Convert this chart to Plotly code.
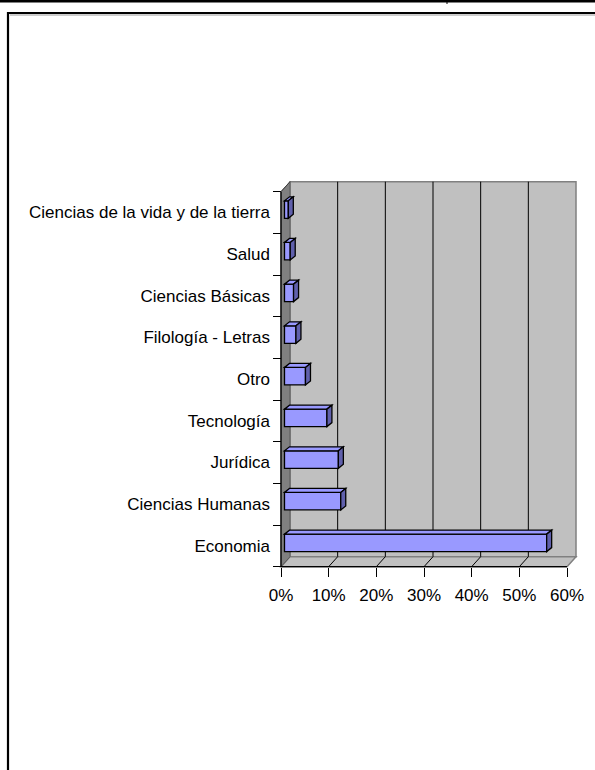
import plotly.graph_objects as go

# ---- data (bottom to top) ----
categories = ["Economia", "Ciencias Humanas", "Jurídica", "Tecnología", "Otro",
              "Filología - Letras", "Ciencias Básicas", "Salud",
              "Ciencias de la vida y de la tierra"]
values = [55.0, 11.8, 11.3, 8.9, 4.4, 2.4, 1.9, 1.2, 0.8]
x_ticks = [0, 10, 20, 30, 40, 50, 60]
x_tick_labels = ["0%", "10%", "20%", "30%", "40%", "50%", "60%"]

W, H = 595, 770
X_MAX = 60
# pixel geometry of the front frame
PX0, PX1 = 281.0, 567.0          # x of 0% and 60%
PY_BOT, PY_TOP = 566.7, 191.7    # y of bottom / top of category band
PX_PCT = (PX1 - PX0) / X_MAX
PX_CAT = (PY_BOT - PY_TOP) / len(categories)

# plot-area (slightly larger than the frame so shapes are not clipped)
DOM_L, DOM_R, DOM_B, DOM_T = 276.0, 586.0, 572.0, 175.0
x_range = [(DOM_L - PX0) / PX_PCT, (DOM_R - PX0) / PX_PCT]
y_lo = -0.5 - (DOM_B - PY_BOT) / PX_CAT
y_hi = -0.5 + (PY_BOT - DOM_T) / PX_CAT

# 3D depth
DX = 9.0 / PX_PCT
DY = 10.0 / PX_CAT
BAR_X0 = 3.5 / PX_PCT
BAR_SHIFT = 3.0 / PX_CAT
BAR_W = 0.42
BDX = 5.0 / PX_PCT
BDY = 4.0 / PX_CAT

ymin, ymax = -0.5, len(categories) - 0.5
WALL = "#C0C0C0"
SIDE = "#808080"
BAR = "#9999FF"
BAR_SIDE = "#6060AC"

shapes = []
def path(pts):
    return "M " + " L ".join(f"{x},{y}" for x, y in pts) + " Z"

# back wall
shapes.append(dict(type="rect", xref="x", yref="y", x0=DX, x1=X_MAX + DX,
                   y0=ymin + DY, y1=ymax + DY, fillcolor=WALL,
                   line=dict(color=SIDE, width=1.5), layer="below"))
# floor
shapes.append(dict(type="path", xref="x", yref="y",
                   path=path([(0, ymin), (X_MAX, ymin), (X_MAX + DX, ymin + DY), (DX, ymin + DY)]),
                   fillcolor=WALL, line=dict(color=SIDE, width=1.5), layer="below"))
# left wall
shapes.append(dict(type="path", xref="x", yref="y",
                   path=path([(0, ymin), (0, ymax), (DX, ymax + DY), (DX, ymin + DY)]),
                   fillcolor=SIDE, line=dict(color="#5a5a5a", width=1), layer="below"))
# gridlines on back wall and floor
for t in x_ticks[1:-1]:
    shapes.append(dict(type="line", xref="x", yref="y", x0=t + DX, x1=t + DX,
                       y0=ymin + DY, y1=ymax + DY, line=dict(color="#000000", width=1),
                       layer="below"))
    shapes.append(dict(type="line", xref="x", yref="y", x0=t, x1=t + DX,
                       y0=ymin, y1=ymin + DY, line=dict(color="#000000", width=1),
                       layer="below"))
# front axis lines
shapes.append(dict(type="line", xref="x", yref="y", x0=0, x1=X_MAX, y0=ymin, y1=ymin,
                   line=dict(color="#000000", width=1.3)))
shapes.append(dict(type="line", xref="x", yref="y", x0=0, x1=0, y0=ymin, y1=ymax,
                   line=dict(color="#000000", width=1.3)))
shapes.append(dict(type="line", xref="x", yref="y", x0=0, x1=DX, y0=ymax, y1=ymax + DY,
                   line=dict(color="#404040", width=1)))

# bar top and side faces
for i, v in enumerate(values):
    y0 = i - BAR_W / 2 + BAR_SHIFT
    y1 = y0 + BAR_W
    xa, xb = BAR_X0, BAR_X0 + v
    shapes.append(dict(type="path", xref="x", yref="y",
                       path=path([(xa, y1), (xb, y1), (xb + BDX, y1 + BDY), (xa + BDX, y1 + BDY)]),
                       fillcolor=BAR, line=dict(color="#000000", width=1.3)))
    shapes.append(dict(type="path", xref="x", yref="y",
                       path=path([(xb, y0), (xb, y1), (xb + BDX, y1 + BDY), (xb + BDX, y0 + BDY)]),
                       fillcolor=BAR_SIDE, line=dict(color="#000000", width=1.3)))

# page frame decorations
shapes.append(dict(type="line", xref="paper", yref="paper", x0=0, x1=1,
                   y0=1 - 1.3 / H, y1=1 - 1.3 / H, line=dict(color="#000", width=2.6)))
shapes.append(dict(type="line", xref="paper", yref="paper", x0=447 / W, x1=447 / W,
                   y0=1, y1=1 - 4 / H, line=dict(color="#000", width=1)))
shapes.append(dict(type="line", xref="paper", yref="paper", x0=8 / W, x1=1,
                   y0=1 - 13 / H, y1=1 - 13 / H, line=dict(color="#000", width=2.2)))
shapes.append(dict(type="line", xref="paper", yref="paper", x0=10 / W, x1=1,
                   y0=1 - 15 / H, y1=1 - 15 / H, line=dict(color="#9a9a9a", width=1)))
shapes.append(dict(type="line", xref="paper", yref="paper", x0=8 / W, x1=8 / W,
                   y0=1 - 12 / H, y1=0, line=dict(color="#000", width=2.2)))

FONT = "Liberation Sans, Arial, sans-serif"
FS = 17

fig = go.Figure(go.Bar(
    orientation="h", y=categories, x=values, base=BAR_X0,
    width=BAR_W, offset=-BAR_W / 2 + BAR_SHIFT,
    marker=dict(color=BAR, line=dict(color="#000000", width=1.3)),
    hoverinfo="skip"))

fig.update_layout(
    template="none",
    width=W, height=H, margin=dict(l=0, r=0, t=0, b=0, pad=0, autoexpand=False),
    paper_bgcolor="white", plot_bgcolor="rgba(0,0,0,0)",
    showlegend=False, shapes=shapes,
    font=dict(family=FONT, size=FS, color="#000"),
    xaxis=dict(domain=[DOM_L / W, DOM_R / W], range=x_range, anchor="free",
               position=1 - PY_BOT / H, tickmode="array", tickvals=x_ticks,
               ticktext=x_tick_labels, ticks="outside", ticklen=9, tickcolor="#000",
               tickwidth=1, showgrid=False, zeroline=False, showline=False,
               automargin=False, ticklabelstandoff=4,
               tickfont=dict(family=FONT, size=FS, color="#000")),
    yaxis=dict(domain=[1 - DOM_B / H, 1 - DOM_T / H], range=[y_lo, y_hi],
               type="category", categoryorder="array", categoryarray=categories,
               anchor="free", position=PX0 / W, tickson="boundaries",
               ticks="outside", ticklen=8, tickcolor="#000", tickwidth=1,
               ticklabelstandoff=11, automargin=False,
               showgrid=False, zeroline=False, showline=False,
               tickfont=dict(family=FONT, size=FS, color="#000")),
)

fig.write_html("out.html", config={"displayModeBar": False},
               post_script="document.body.style.margin='0px';document.body.style.overflow='hidden';")
